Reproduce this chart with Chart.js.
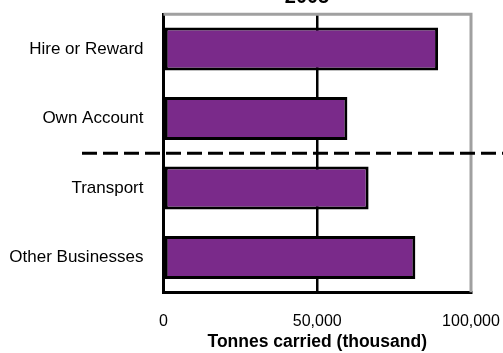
<!DOCTYPE html>
<html>
<head>
<meta charset="utf-8">
<script src="https://cdn.jsdelivr.net/npm/chart.js@4/dist/chart.umd.min.js"></script>
<style>
html,body{margin:0;padding:0;background:#fff;}
#wrap{width:503px;height:353px;}
</style>
</head>
<body>
<div id="wrap"><canvas id="c" width="503" height="353"></canvas></div>
<script>
const titleText = "2005";
const categories = ["Hire or Reward", "Own Account", "Transport", "Other Businesses"];
const tonnes = [89300, 59800, 66700, 81900];
const xTicks = [0, 50000, 100000];
const xTitle = "Tonnes carried (thousand)";

const framePlugin = {
  id: 'frame',
  beforeDatasetsDraw(chart) {
    const {ctx, chartArea: a} = chart;
    ctx.save();
    ctx.strokeStyle = '#a0a0a0';
    ctx.lineWidth = 3;
    ctx.beginPath();
    ctx.moveTo(a.left, a.top);
    ctx.lineTo(a.right, a.top);
    ctx.lineTo(a.right, a.bottom);
    ctx.stroke();
    ctx.restore();
  },
  afterDraw(chart) {
    const {ctx, chartArea: a} = chart;
    const y = chart.scales.y.getPixelForValue(1.5);
    ctx.save();
    ctx.strokeStyle = '#000';
    ctx.lineWidth = 3;
    ctx.setLineDash([15, 6]);
    ctx.beginPath();
    ctx.moveTo(82, y);
    ctx.lineTo(503, y);
    ctx.stroke();
    ctx.setLineDash([]);
    ctx.fillStyle = '#000';
    ctx.font = 'bold 20px "Liberation Sans", Arial, sans-serif';
    ctx.textAlign = 'center';
    ctx.textBaseline = 'alphabetic';
    ctx.fillText(titleText, 307, 3);
    ctx.restore();
  }
};

new Chart(document.getElementById('c'), {
  type: 'bar',
  data: {
    labels: categories,
    datasets: [{
      data: tonnes,
      backgroundColor: '#7a2a8a',
      borderColor: '#000',
      borderWidth: 3,
      borderSkipped: false,
      barPercentage: 0.62,
      categoryPercentage: 1
    }]
  },
  options: {
    indexAxis: 'y',
    responsive: false,
    animation: false,
    layout: {padding: {top: 14.3, right: 32, left: 0, bottom: 0}},
    plugins: {legend: {display: false}, tooltip: {enabled: false}, title: {display: false}},
    scales: {
      x: {
        min: 0, max: 100000,
        afterBuildTicks(scale) { scale.ticks = xTicks.map(v => ({value: v})); },
        afterFit(scale) { scale.height = 353 - 292.3; scale.paddingLeft = 0; scale.paddingRight = 0; },
        border: {display: true, color: '#000', width: 3},
        grid: {
          drawTicks: false,
          lineWidth: 2.5,
          color: c => (c.tick && c.tick.value === 50000) ? '#000' : 'rgba(0,0,0,0)'
        },
        ticks: {
          padding: 20,
          color: '#000',
          font: {family: '"Liberation Sans", Arial, sans-serif', size: 16},
          maxRotation: 0,
          callback: v => Number(v).toLocaleString('en-US')
        },
        title: {
          display: true,
          text: xTitle,
          color: '#000',
          font: {family: '"Liberation Sans", Arial, sans-serif', size: 17.5, weight: 'bold'},
          padding: {top: 0, bottom: 0}
        }
      },
      y: {
        afterFit(scale) { scale.width = 163.5; scale.paddingTop = 0; scale.paddingBottom = 0; },
        border: {display: true, color: '#000', width: 3},
        grid: {display: false, drawTicks: false},
        ticks: {
          padding: 20,
          color: '#000',
          font: {family: '"Liberation Sans", Arial, sans-serif', size: 17}
        }
      }
    }
  },
  plugins: [framePlugin]
});
</script>
</body>
</html>
